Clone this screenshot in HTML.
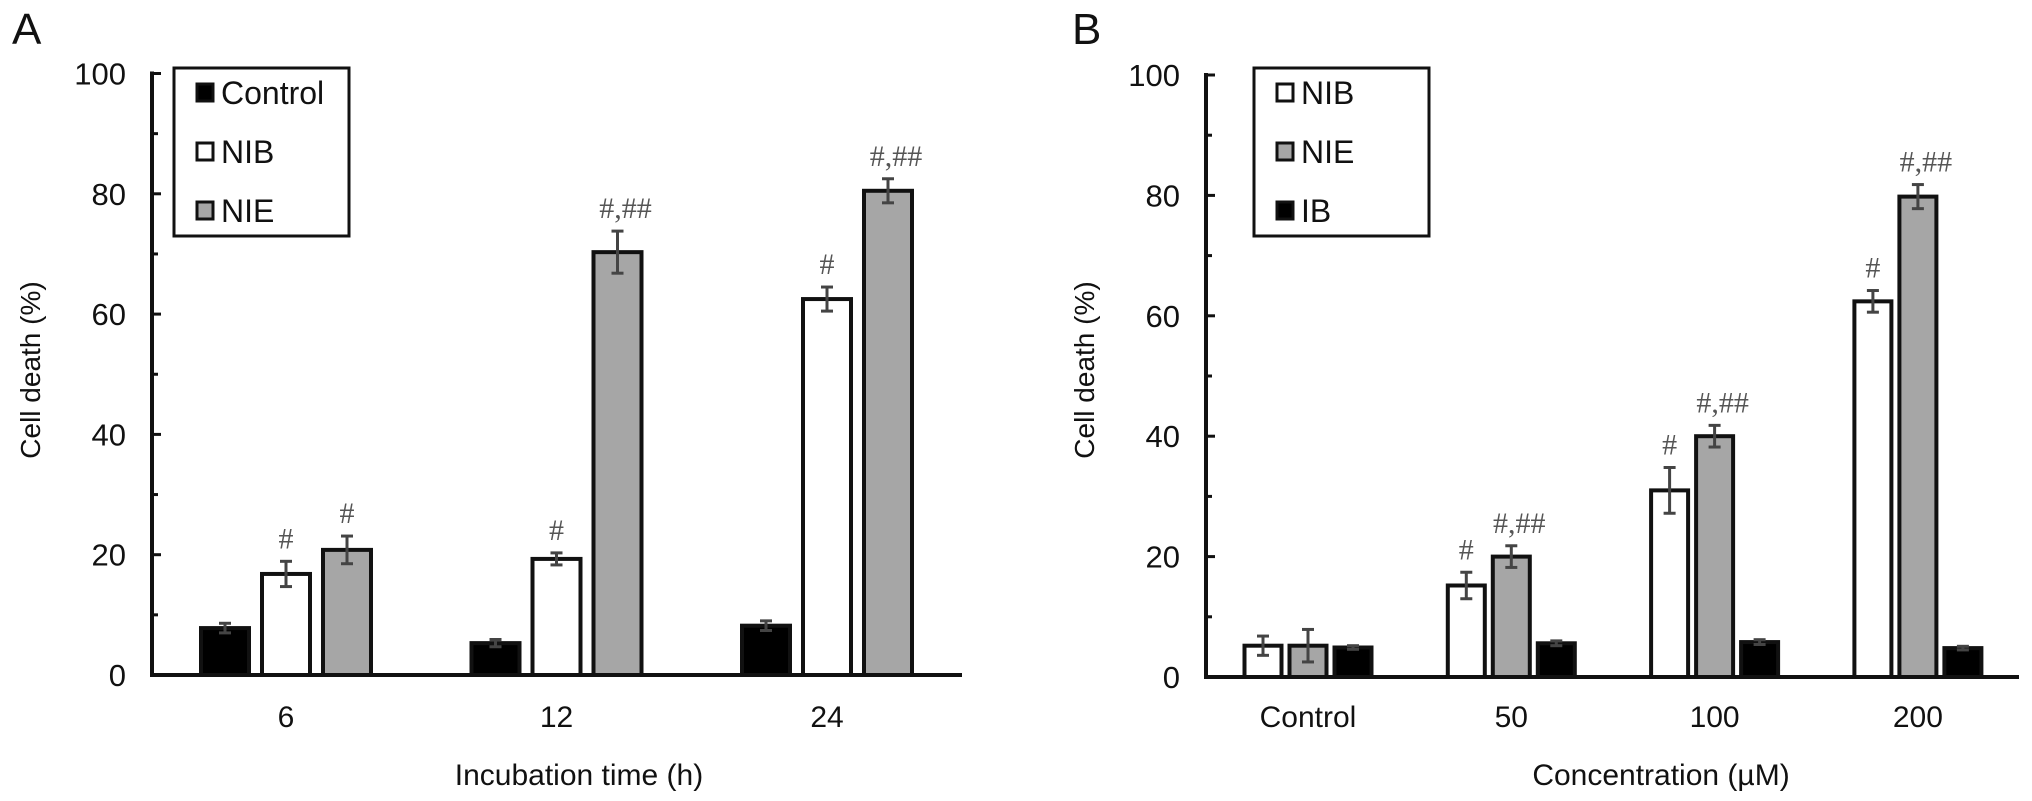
<!DOCTYPE html>
<html><head><meta charset="utf-8">
<style>
html,body{margin:0;padding:0;background:#fff;}
svg{display:block;font-family:"Liberation Sans",Arial,sans-serif;}
</style></head>
<body>
<svg id="fig" width="2032" height="801" viewBox="0 0 2032 801" xmlns="http://www.w3.org/2000/svg">
<g id="pa"></g>
<g id="pb"></g>
</svg>
<script>
// Panel A data
const catsA = ["6","12","24"];
const seriesA = ["Control","NIB","NIE"];
const ctrlA = [7.8, 5.3, 8.2];
const nibA = [16.8, 19.3, 62.5];
const nieA = [20.8, 70.3, 80.5];
const ctrlErrA = [0.8, 0.6, 0.8];
const nibErrA = [2.1, 1.0, 2.0];
const nieErrA = [2.3, 3.5, 2.0];
const nibSigA = ["#","#","#"];
const nieSigA = ["#","#,##","#,##"];
// Panel B data
const catsB = ["Control","50","100","200"];
const seriesB = ["NIB","NIE","IB"];
const nibB = [5.2, 15.2, 31.0, 62.4];
const nieB = [5.2, 20.0, 40.0, 79.8];
const ibB = [4.9, 5.6, 5.8, 4.8];
const nibErrB = [1.6, 2.2, 3.8, 1.8];
const nieErrB = [2.7, 1.8, 1.8, 2.0];
const ibErrB = [0.3, 0.4, 0.4, 0.3];
const nibSigB = ["","#","#","#"];
const nieSigB = ["","#,##","#,##","#,##"];
const yTicks = [0,20,40,60,80,100];

const NS = "http://www.w3.org/2000/svg";
function mk(parent, tag, attrs, text){
  const e = document.createElementNS(NS, tag);
  for (const k in attrs) e.setAttribute(k, attrs[k]);
  if (text !== undefined) e.textContent = text;
  parent.appendChild(e);
  return e;
}

function drawPanel(g, o){
  const y = v => o.y0 - v * (o.y0 - o.y100) / 100;
  const x = i => o.c0 + i * o.step;
  const L = mk(g, "text", {x:o.letterX, y:44, "font-size":44, fill:"#111"}, o.letter);
  
  
  const ya = mk(g, "line", {x1:o.ax, y1:o.y100-2, x2:o.ax, y2:o.y0, stroke:"#111", "stroke-width":4});
  
  
  for (let v = 0; v <= 100; v += 10){
    const major = v % 20 === 0;
    const t = mk(g, "line", {x1:o.ax, y1:y(v), x2:o.ax + (major ? 9 : 6), y2:y(v), stroke:"#111", "stroke-width":3});
    
    
  }
  yTicks.forEach(v => {
    const t = mk(g, "text", {x:o.ax-26, y:y(v)+11, "font-size":31, "text-anchor":"end", fill:"#111"}, String(v));
    
    
  });
  const yt = mk(g, "text", {x:0, y:0, "font-size":28, "text-anchor":"middle", fill:"#111", transform:`translate(${o.ax-112},${o.ytY}) rotate(-90)`}, "Cell death (%)");
  
  
  const xa = mk(g, "line", {x1:o.ax-2, y1:o.y0, x2:o.axEnd, y2:o.y0, stroke:"#111", "stroke-width":4});
  
  
  o.cats.forEach((c, i) => {
    const t = mk(g, "text", {x:x(i), y:727, "font-size":30, "text-anchor":"middle", fill:"#111"}, c);
    
    
  });
  const xt = mk(g, "text", {x:o.xtX, y:785, "font-size":30, "text-anchor":"middle", fill:"#111"}, o.xTitle);
  
  
  o.series.forEach((s, si) => {
    o.cats.forEach((c, i) => {
      const cx = x(i) + (si - 1) * o.bstep;
      const v = s.vals[i];
      const r = mk(g, "rect", {x:cx - o.bw/2, y:y(v), width:o.bw, height:o.y0 - y(v), fill:s.fill, stroke:"#111", "stroke-width":4});
      
      
      const e = s.err[i];
      const eg = mk(g, "g", {stroke:"#444", "stroke-width":3});
      
      
      mk(eg, "line", {x1:cx, y1:y(v+e), x2:cx, y2:y(v-e)});
      mk(eg, "line", {x1:cx-6, y1:y(v+e), x2:cx+6, y2:y(v+e)});
      mk(eg, "line", {x1:cx-6, y1:y(v-e), x2:cx+6, y2:y(v-e)});
      if (s.sig && s.sig[i]){
        const hs = mk(g, "text", {x:cx + (s.sig[i].length > 1 ? 8 : 0), y:y(v+e) - 13, "font-size":30, "text-anchor":"middle", fill:"#555", "font-family":"Liberation Serif, serif"}, s.sig[i]);
        
        
      }
    });
  });
  const lg = mk(g, "g", {});
  
  
  mk(lg, "rect", {x:o.lx, y:68, width:175, height:168, fill:"#fff", stroke:"#111", "stroke-width":3});
  o.series.forEach((s, si) => {
    const ey = 92 + si * 59;
    const le = mk(lg, "g", {});
    
    
    mk(le, "rect", {x:o.lx + 23, y:ey - 8, width:16, height:17, fill:s.fill, stroke:"#111", "stroke-width":3});
    mk(le, "text", {x:o.lx + 47, y:ey + 12, "font-size":32, fill:"#111"}, s.name);
  });
}

drawPanel(document.getElementById("pa"), {
  letter:"A", letterX:12, ax:152, axEnd:962, y0:675, y100:73.5, ytY:370,
  c0:286, step:270.5, bw:48, bstep:61, cats:catsA, xTitle:"Incubation time (h)", xtX:579, lx:174,
  series:[
    {name:"Control", vals:ctrlA, err:ctrlErrA, fill:"#000", sig:null},
    {name:"NIB", vals:nibA, err:nibErrA, fill:"#fff", sig:nibSigA},
    {name:"NIE", vals:nieA, err:nieErrA, fill:"#a6a6a6", sig:nieSigA}
  ]
});
drawPanel(document.getElementById("pb"), {
  letter:"B", letterX:1072, ax:1206, axEnd:2019, y0:677, y100:75, ytY:370,
  c0:1308, step:203.3, bw:37, bstep:45, cats:catsB, xTitle:"Concentration (\u00b5M)", xtX:1661, lx:1254,
  series:[
    {name:"NIB", vals:nibB, err:nibErrB, fill:"#fff", sig:nibSigB},
    {name:"NIE", vals:nieB, err:nieErrB, fill:"#a6a6a6", sig:nieSigB},
    {name:"IB", vals:ibB, err:ibErrB, fill:"#000", sig:null}
  ]
});
</script>
</body></html>
